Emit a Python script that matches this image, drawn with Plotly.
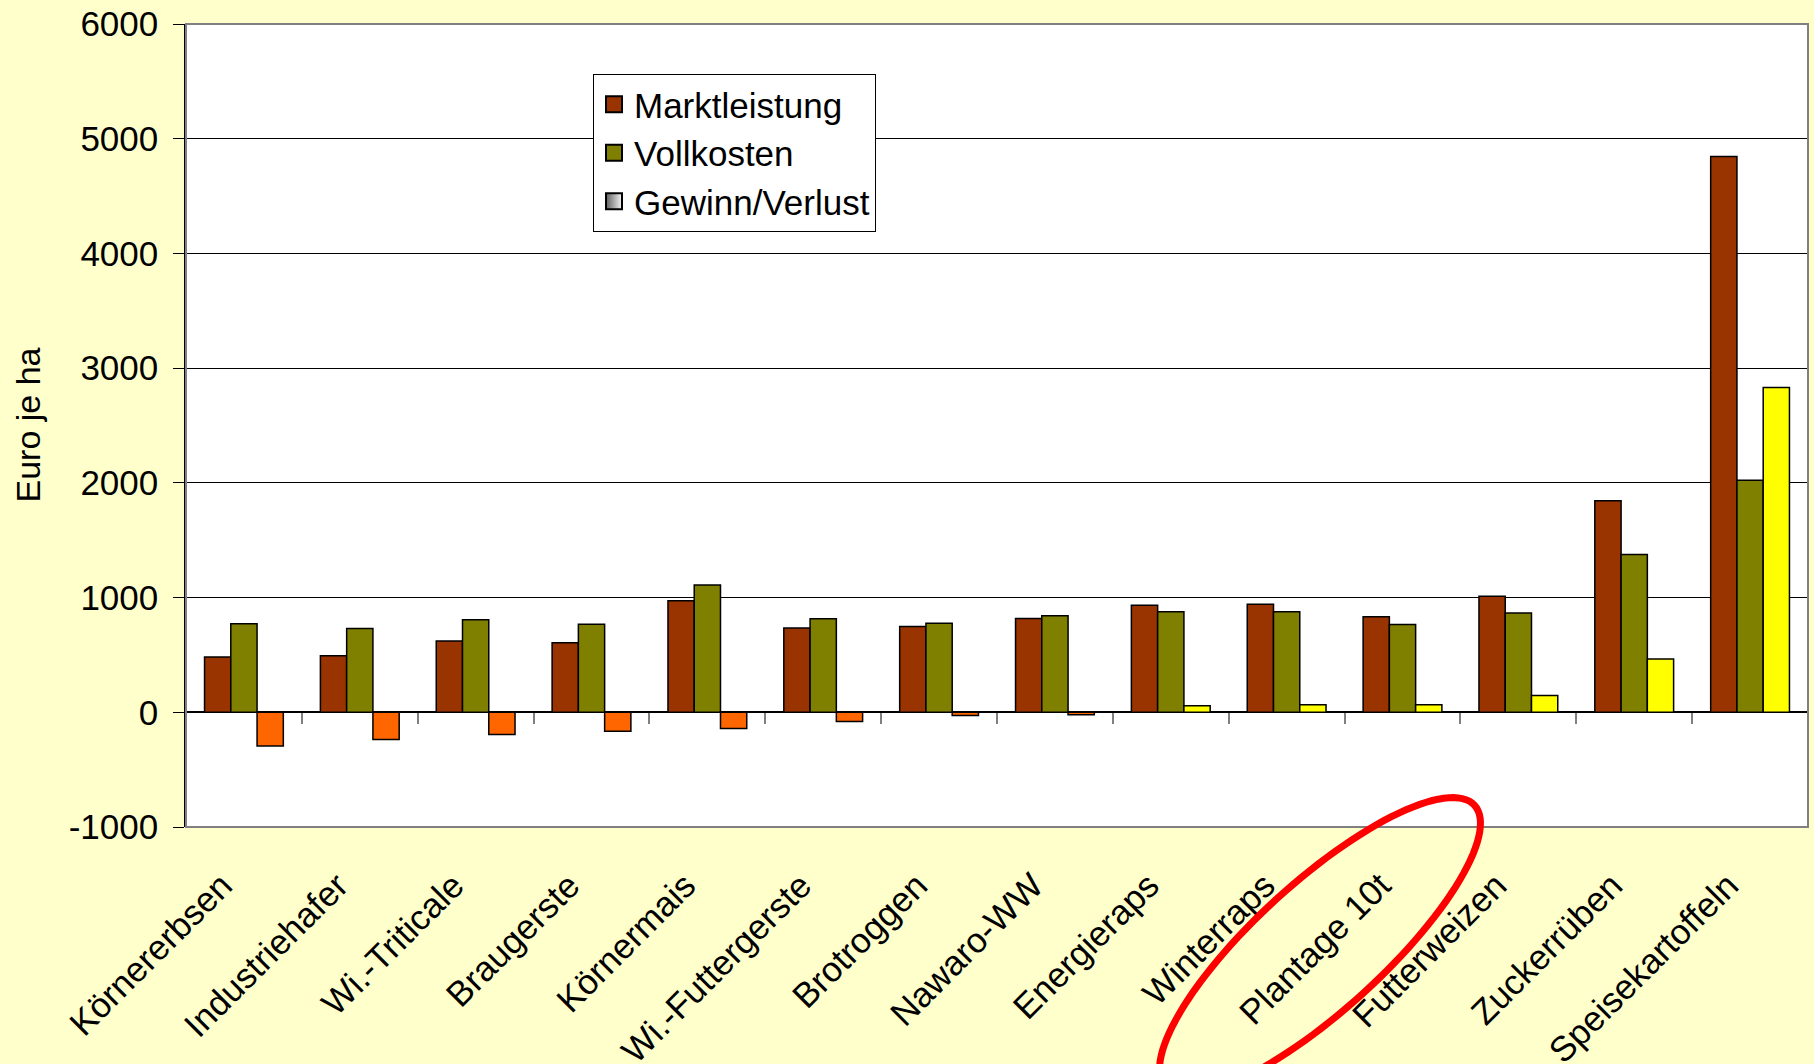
import numpy as np
import plotly.graph_objects as go

categories = ["Körnererbsen", "Industriehafer", "Wi.-Triticale", "Braugerste", "Körnermais",
              "Wi.-Futtergerste", "Brotroggen", "Nawaro-WW", "Energieraps", "Winterraps",
              "Plantage 10t", "Futterweizen", "Zuckerrüben", "Speisekartoffeln"]
marktleistung = [483, 493, 621, 607, 972, 735, 748, 818, 933, 942, 832, 1012, 1843, 4844]
vollkosten = [772, 730, 806, 768, 1109, 815, 777, 842, 876, 876, 766, 866, 1376, 2023]
gewinn = [-294, -237, -194, -166, -142, -81, -28, -22, 57, 66, 66, 147, 464, 2831]
y_tick_values = [-1000, 0, 1000, 2000, 3000, 4000, 5000, 6000]
y_tick_labels = ["-1000", "0", "1000", "2000", "3000", "4000", "5000", "6000"]

FONT = "Arial, Liberation Sans, sans-serif"
W, H = 1814, 1064
L, R, T, B = 186, 6, 24, 237
PW, PH = W - L - R, H - T - B

gewinn_colors = ["#FF6600" if v < 0 else "#FFFF00" for v in gewinn]

fig = go.Figure()
bar_line = dict(color="#000000", width=1.5)
fig.add_trace(go.Bar(x=categories, y=marktleistung, name="Marktleistung",
                     marker=dict(color="#993300", line=bar_line), showlegend=False))
fig.add_trace(go.Bar(x=categories, y=vollkosten, name="Vollkosten",
                     marker=dict(color="#808000", line=bar_line), showlegend=False))
fig.add_trace(go.Bar(x=categories, y=gewinn, name="Gewinn/Verlust",
                     marker=dict(color=gewinn_colors, line=bar_line), showlegend=False))

# legend entries
for name, col, grad in [("Marktleistung", "#993300", None),
                        ("Vollkosten", "#808000", None),
                        ("Gewinn/Verlust", "#606060", "#f4f4f4")]:
    mk = dict(symbol="square", size=16, color=col, line=dict(color="#000000", width=2))
    if grad:
        mk["gradient"] = dict(type="horizontal", color=grad)
    fig.add_trace(go.Scatter(x=[None], y=[None], mode="markers", name=name, marker=mk,
                             showlegend=True, hoverinfo="skip"))

# helper trace for the category boundary ticks on the zero line
fig.add_trace(go.Scatter(x=[0], y=[0], xaxis="x2", mode="markers",
                         marker=dict(opacity=0), showlegend=False, hoverinfo="skip"))

n = len(categories)
# ellipse highlight (pixel geometry -> paper coords)
t = np.linspace(0, 2 * np.pi, 121)
cx, cy, a, b, th = 1320, 946, 209, 64, np.deg2rad(42.3)
ex = cx + a * np.cos(t) * np.cos(th) - b * np.sin(t) * np.sin(th)
ey = cy - (a * np.cos(t) * np.sin(th) + b * np.sin(t) * np.cos(th))
px = (ex - L) / PW
py = (H - B - ey) / PH
path = "M " + " L ".join(f"{x:.5f},{y:.5f}" for x, y in zip(px, py)) + " Z"

fig.update_layout(
    width=W, height=H,
    margin=dict(l=L, r=R, t=T, b=B, pad=0, autoexpand=False),
    paper_bgcolor="#FFFFCC", plot_bgcolor="#FFFFFF",
    font=dict(family=FONT, size=34, color="#000000"),
    barmode="group", bargap=0.32, bargroupgap=0,
    legend=dict(x=(593 - L) / PW, y=(H - B - 74) / PH, xanchor="left", yanchor="top",
                bgcolor="#FFFFFF", bordercolor="#000000", borderwidth=1,
                font=dict(size=35, family=FONT), tracegroupgap=0, itemwidth=30),
    xaxis=dict(type="category", showgrid=False, ticks="", tickangle=-45,
               tickfont=dict(size=35, family=FONT), ticklabelstandoff=30,
               ticklabelshift=-22, automargin=False,
               showline=False, zeroline=False, range=[-0.5, n - 0.5]),
    xaxis2=dict(overlaying="x", anchor="free", position=1 / 7, range=[-0.5, n - 0.5],
                tickvals=list(np.arange(n + 1) - 0.5), ticks="outside", ticklen=11,
                tickcolor="#808080", tickwidth=1.5, showticklabels=False, automargin=False,
                showgrid=False, zeroline=False, showline=False),
    yaxis=dict(range=[-1000, 6000], tickvals=y_tick_values, ticktext=y_tick_labels,
               showgrid=True, gridcolor="#000000", gridwidth=1,
               zeroline=True, zerolinecolor="#000000", zerolinewidth=1.5,
               ticks="outside", ticklen=11, tickcolor="#000000", ticklabelstandoff=8,
               showline=True, linecolor="#000000", linewidth=1.5, automargin=False,
               tickfont=dict(size=35, family=FONT)),
    shapes=[
        dict(type="rect", xref="paper", yref="paper", x0=0, x1=1, y0=0, y1=1,
             line=dict(color="#808080", width=2), layer="above"),
        dict(type="path", xref="paper", yref="paper", path=path,
             line=dict(color="#FF0000", width=7)),
    ],
    annotations=[
        dict(text="Euro je ha", xref="paper", yref="paper", x=(27 - L) / PW, y=0.5,
             textangle=-90, showarrow=False, font=dict(size=34, family=FONT),
             xanchor="center", yanchor="middle"),
    ],
)

fig.write_html("out.html", config={"displayModeBar": False},
               post_script="document.body.style.margin='0';"
                           "document.body.style.background='#FFFFCC';")
